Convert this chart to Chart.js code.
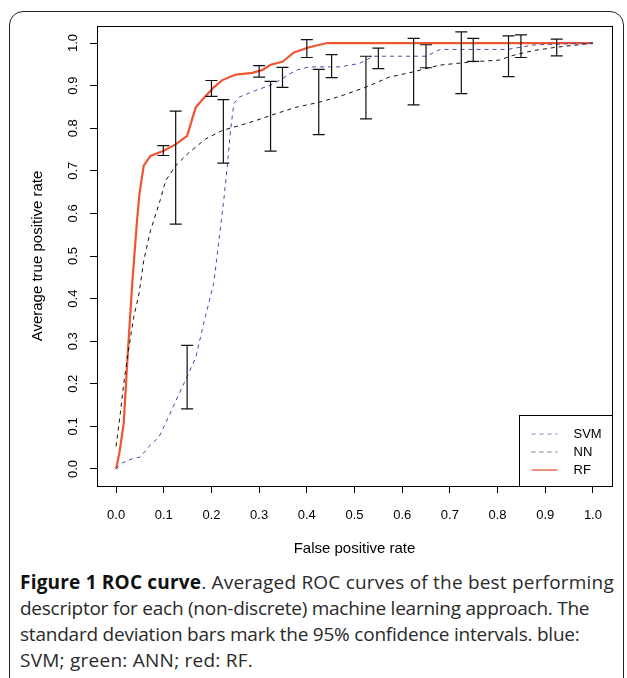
<!DOCTYPE html>
<html><head><meta charset="utf-8">
<script src="https://cdn.jsdelivr.net/npm/chart.js@4/dist/chart.umd.min.js"></script>
<style>
html,body{margin:0;padding:0;background:#fff;width:627px;height:678px;overflow:hidden;}
#frame{position:absolute;left:9px;top:11px;width:615px;height:720px;border:1.8px solid #222;border-radius:14px;box-sizing:border-box;}
#wrap{position:absolute;left:0;top:0;width:627px;height:560px;}
#cap{position:absolute;left:20px;top:569px;font-family:"Open Sans";font-size:19px;line-height:26px;color:#2a2a2a;white-space:nowrap;}
#cap b{font-weight:700;color:#111;}
</style></head><body>
<div id="frame"></div>
<div id="wrap"><canvas id="c" width="627" height="560"></canvas></div>
<div id="cap"><div style="letter-spacing:0.2px"><b>Figure 1 ROC curve</b>. Averaged ROC curves of the best performing</div><div style="letter-spacing:-0.25px">descriptor for each (non-discrete) machine learning approach. The</div><div style="letter-spacing:-0.22px">standard deviation bars mark the 95% confidence intervals. blue:</div><div style="letter-spacing:0.25px">SVM; green: ANN; red: RF.</div></div>
<script>
// ---- data ----
const tickValues = [0,0.1,0.2,0.3,0.4,0.5,0.6,0.7,0.8,0.9,1.0];
const seriesNames = ['SVM','NN','RF'];

const svmFpr = [0,0.013,0.034,0.051,0.069,0.09,0.104,0.125,0.149,0.167,0.184,0.205,0.217,0.226,0.233,0.24,0.247,0.258,0.293,0.324,0.349,0.377,0.405,0.47,0.51,0.54,0.65,0.68,0.82,0.88,1.0];
const svmTpr = [0,0.014,0.024,0.028,0.053,0.075,0.108,0.159,0.217,0.261,0.343,0.437,0.548,0.633,0.708,0.795,0.858,0.873,0.889,0.901,0.917,0.936,0.944,0.944,0.952,0.969,0.969,0.985,0.985,0.996,1.0];

const nnFpr = [0,0.009,0.016,0.027,0.037,0.048,0.058,0.072,0.093,0.104,0.125,0.153,0.188,0.223,0.258,0.293,0.335,0.377,0.426,0.467,0.523,0.573,0.622,0.678,0.748,0.804,0.832,0.874,0.922,0.971,1.0];
const nnTpr = [0.053,0.131,0.2,0.286,0.356,0.411,0.489,0.559,0.633,0.677,0.712,0.743,0.775,0.795,0.806,0.818,0.834,0.849,0.861,0.874,0.896,0.92,0.932,0.948,0.956,0.96,0.971,0.982,0.99,0.996,1.0];

const rfFpr = [0,0.007,0.016,0.025,0.034,0.044,0.049,0.058,0.072,0.1,0.125,0.149,0.167,0.184,0.205,0.223,0.251,0.286,0.307,0.324,0.349,0.373,0.405,0.443,1.0];
const rfTpr = [0,0.038,0.107,0.28,0.437,0.584,0.646,0.712,0.735,0.747,0.762,0.782,0.849,0.871,0.896,0.913,0.926,0.93,0.937,0.949,0.956,0.978,0.99,1.0,1.0];

const errX    = [0.099,0.125,0.149,0.2,0.225,0.3,0.324,0.349,0.4,0.425,0.452,0.524,0.55,0.624,0.65,0.724,0.749,0.823,0.849,0.924];
const errLow  = [0.736,0.575,0.141,0.875,0.718,0.92,0.746,0.896,0.966,0.785,0.919,0.822,0.94,0.855,0.942,0.881,0.957,0.921,0.966,0.97];
const errHigh = [0.759,0.84,0.29,0.912,0.867,0.947,0.91,0.943,1.008,0.938,0.973,0.969,0.988,1.011,0.996,1.026,1.011,1.017,1.019,1.009];

const pts = (xs, ys) => xs.map((v, i) => ({x: v, y: ys[i]}));

Chart.defaults.font.family = '"Liberation Sans", Arial, sans-serif';
Chart.defaults.color = '#000';

const legendColors = ['#8080c8', '#7a7a7a', '#f3927c'];
const legendDash = [[4,4],[4,4],[]];

const rPlugin = {
  id: 'rstyle',
  afterDatasetsDraw(chart) {
    const {ctx, chartArea: a, scales: {x, y}} = chart;
    ctx.save();
    // error bars
    ctx.strokeStyle = '#111';
    ctx.lineWidth = 1.2;
    errX.forEach((v, i) => {
      const px = x.getPixelForValue(v);
      const lo = y.getPixelForValue(errLow[i]);
      const hi = y.getPixelForValue(errHigh[i]);
      ctx.beginPath();
      ctx.moveTo(px, lo); ctx.lineTo(px, hi);
      ctx.moveTo(px - 6, lo); ctx.lineTo(px + 6, lo);
      ctx.moveTo(px - 6, hi); ctx.lineTo(px + 6, hi);
      ctx.stroke();
    });
    // plot box
    ctx.strokeStyle = '#000';
    ctx.lineWidth = 1;
    ctx.strokeRect(Math.round(a.left) + 0.5, Math.round(a.top) + 0.5, Math.round(a.right - a.left), Math.round(a.bottom - a.top));
    // legend
    const lw = 93, lh = 71;
    const lx = Math.round(a.right) - lw + 0.5, ly = Math.round(a.bottom) - lh + 0.5;
    ctx.fillStyle = '#fff';
    ctx.fillRect(lx, ly, lw, lh);
    ctx.strokeRect(lx, ly, lw, lh);
    ctx.font = '13px "Liberation Sans", Arial, sans-serif';
    ctx.textBaseline = 'middle';
    ctx.textAlign = 'left';
    seriesNames.forEach((n, i) => {
      const yy = ly + 18.5 + i * 18;
      ctx.beginPath();
      ctx.setLineDash(legendDash[i]);
      ctx.strokeStyle = legendColors[i];
      ctx.lineWidth = i === 2 ? 2 : 1;
      ctx.moveTo(lx + 12, yy); ctx.lineTo(lx + 38, yy);
      ctx.stroke();
      ctx.setLineDash([]);
      ctx.fillStyle = '#000';
      ctx.fillText(n, lx + 54, yy + 0.5);
    });
    ctx.restore();
  }
};

new Chart(document.getElementById('c'), {
  type: 'line',
  data: {
    datasets: [
      {label: seriesNames[0], data: pts(svmFpr, svmTpr), borderColor: '#4848b0', borderWidth: 1, borderDash: [4,4], pointRadius: 0, tension: 0, fill: false},
      {label: seriesNames[1], data: pts(nnFpr, nnTpr), borderColor: '#111', borderWidth: 1, borderDash: [4,4], pointRadius: 0, tension: 0, fill: false},
      {label: seriesNames[2], data: pts(rfFpr, rfTpr), borderColor: '#ee5530', borderWidth: 2.2, pointRadius: 0, tension: 0, fill: false}
    ]
  },
  options: {
    responsive: false,
    animation: false,
    devicePixelRatio: 1,
    layout: {padding: {top: 26, right: 15, left: 0, bottom: 0}},
    plugins: {legend: {display: false}, tooltip: {enabled: false}},
    scales: {
      x: {
        type: 'linear', min: -0.04, max: 1.04,
        afterBuildTicks: s => { s.ticks = tickValues.map(v => ({value: v})); },
        afterFit: s => { s.height = 74; },
        border: {display: false},
        grid: {drawOnChartArea: false, drawTicks: true, tickLength: 7, color: '#000', tickColor: '#000'},
        ticks: {font: {size: 13}, padding: 15, maxRotation: 0, callback: v => Number(v).toFixed(1)},
        title: {display: true, text: 'False positive rate', font: {size: 15}, padding: {top: 0, bottom: 2}}
      },
      y: {
        type: 'linear', min: -0.04, max: 1.04,
        afterBuildTicks: s => { s.ticks = tickValues.map(v => ({value: v})); },
        afterFit: s => { s.width = 97; },
        border: {display: false},
        grid: {drawOnChartArea: false, drawTicks: true, tickLength: 7, color: '#000', tickColor: '#000'},
        ticks: {font: {size: 13}, padding: 8, minRotation: 90, maxRotation: 90, crossAlign: 'center', callback: v => Number(v).toFixed(1)},
        title: {display: true, text: 'Average true positive rate', font: {size: 15}, padding: {top: 29, bottom: 0}}
      }
    }
  },
  plugins: [rPlugin]
});
</script>
</body></html>
